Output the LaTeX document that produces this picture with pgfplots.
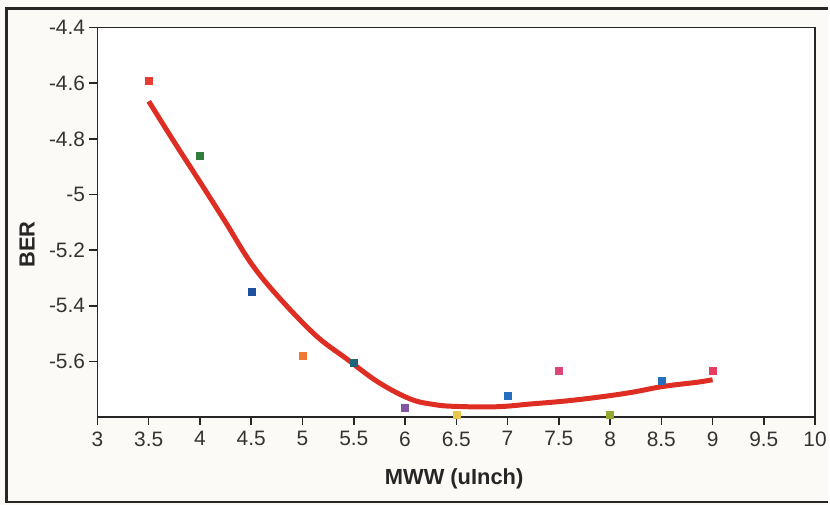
\documentclass[border=0pt]{standalone}
\usepackage{pgfplots}
\pgfplotsset{compat=1.18}
\usepackage{fontspec}
\setmainfont{Liberation Sans}
\definecolor{bgcol}{RGB}{252,250,247}
\definecolor{curvered}{RGB}{222,45,35}
\definecolor{c1}{RGB}{230,60,50}
\definecolor{c2}{RGB}{50,125,60}
\definecolor{c3}{RGB}{30,80,160}
\definecolor{c4}{RGB}{240,120,50}
\definecolor{c5}{RGB}{30,100,120}
\definecolor{c6}{RGB}{130,85,160}
\definecolor{c7}{RGB}{230,200,80}
\definecolor{c8}{RGB}{40,110,190}
\definecolor{c9}{RGB}{220,70,120}
\definecolor{c10}{RGB}{150,170,50}
\definecolor{c11}{RGB}{40,110,190}
\definecolor{c12}{RGB}{230,60,100}
\begin{document}
\begin{tikzpicture}[x=1bp,y=1bp]
\fill[bgcol] (0,0) rectangle (830,506);
\draw[line width=2.5bp, black!85] (830,497.7) -- (6.7,497.7) -- (6.7,2.7) -- (830,2.7);
\begin{axis}[
  at={(97.7bp,88bp)}, anchor=south west,
  scale only axis, width=719.3bp, height=390.3bp,
  xmin=3, xmax=10, ymin=-5.8, ymax=-4.4,
  xtick={3,3.5,4,4.5,5,5.5,6,6.5,7,7.5,8,8.5,9,9.5,10},
  ytick={-5.6,-5.4,-5.2,-5,-4.8,-4.6,-4.4},
  xtick pos=bottom, ytick pos=left,
  tick align=outside, major tick length=8bp,
  tick style={line width=1.5bp, black!85},
  axis line style={line width=1.5bp, black!85},
  axis background/.style={fill=white},
  /pgf/number format/assume math mode=true,
  ticklabel style={font=\fontsize{21}{24}\selectfont, text=black!80},
  xticklabel style={yshift=-3bp},
  yticklabel style={xshift=-1bp},
  xlabel={MWW (uInch)},
  ylabel={BER},
  label style={font=\bfseries\fontsize{22}{25}\selectfont, text=black!85},
  xlabel style={at={(axis description cs:0.497,-0.159)}, anchor=center},
  ylabel style={at={(axis description cs:-0.098,0.443)}, anchor=center, rotate=0},
]
\addplot[smooth, tension=0.6, line width=5bp, color=curvered] coordinates {
(3.5,-4.665) (3.75,-4.812) (4.0,-4.955) (4.25,-5.10) (4.5,-5.248)
(4.77,-5.37) (5.13,-5.507) (5.42,-5.588) (5.74,-5.675)
(6.05,-5.735) (6.28,-5.755) (6.5,-5.762) (6.9,-5.763) (7.23,-5.753)
(7.55,-5.743) (7.88,-5.729) (8.2,-5.712) (8.52,-5.69) (8.85,-5.675) (9.0,-5.666)
};
\addplot[only marks, mark=square*, mark size=3.5bp, color=c1] coordinates {(3.5,-4.59)};
\addplot[only marks, mark=square*, mark size=3.5bp, color=c2] coordinates {(4.0,-4.86)};
\addplot[only marks, mark=square*, mark size=3.5bp, color=c3] coordinates {(4.5,-5.348)};
\addplot[only marks, mark=square*, mark size=3.5bp, color=c4] coordinates {(5.0,-5.58)};
\addplot[only marks, mark=square*, mark size=3.5bp, color=c5] coordinates {(5.5,-5.605)};
\addplot[only marks, mark=square*, mark size=3.5bp, color=c6] coordinates {(6.0,-5.765)};
\addplot[only marks, mark=square*, mark size=3.5bp, color=c7] coordinates {(6.5,-5.79)};
\addplot[only marks, mark=square*, mark size=3.5bp, color=c8] coordinates {(7.0,-5.722)};
\addplot[only marks, mark=square*, mark size=3.5bp, color=c9] coordinates {(7.5,-5.633)};
\addplot[only marks, mark=square*, mark size=3.5bp, color=c10] coordinates {(8.0,-5.79)};
\addplot[only marks, mark=square*, mark size=3.5bp, color=c11] coordinates {(8.5,-5.67)};
\addplot[only marks, mark=square*, mark size=3.5bp, color=c12] coordinates {(9.0,-5.635)};
\end{axis}
\end{tikzpicture}
\end{document}
